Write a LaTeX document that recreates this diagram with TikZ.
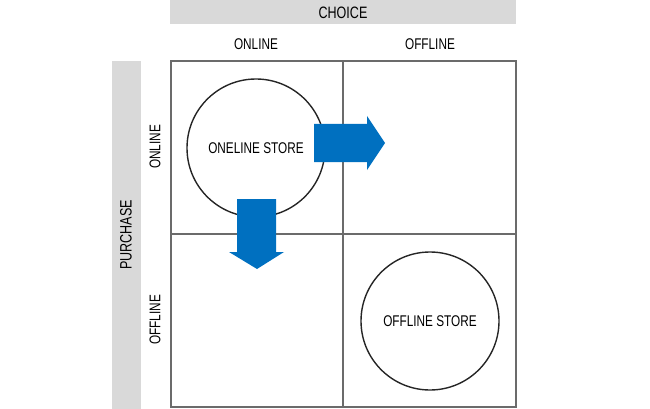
\documentclass[tikz,border=0pt]{standalone}
\usepackage{fontspec}
\setmainfont[FakeStretch=0.76]{Liberation Sans}
\definecolor{bargray}{HTML}{D9D9D9}
\definecolor{gridgray}{HTML}{6B6B6B}
\definecolor{arrowblue}{HTML}{0070C0}
\begin{document}
\begin{tikzpicture}[x=1pt,y=-1pt]
    \tikzset{
        gridline/.style={draw=gridgray,line width=1.8pt},
        storecircle/.style={draw=black!85,line width=1.4pt},
        blockarrow/.style={fill=arrowblue,draw=none},
        lbl/.style={inner sep=0pt,font=\fontsize{15.5}{18}\selectfont},
        headlbl/.style={inner sep=0pt,font=\fontsize{16.5}{19}\selectfont}
    }
    \useasboundingbox (0,0) rectangle (650,409);
    % header bars
    \fill [bargray] (170,0) rectangle (516,24);
    \node [headlbl] (choice) at (343,13) {CHOICE};
    \fill [bargray] (112,61) rectangle (141,409);
    \node [headlbl,rotate=90] (purchase) at (126,235) {PURCHASE};
    % axis labels
    \node [lbl] (colon) at (256,44) {ONLINE};
    \node [lbl] (coloff) at (430,44) {OFFLINE};
    \node [lbl,rotate=90] (rowon) at (155,147) {ONLINE};
    \node [lbl,rotate=90] (rowoff) at (155,320) {OFFLINE};
    % grid
    \draw [gridline] (171,61) rectangle (516,407);
    \draw [gridline] (343,61) -- (343,407);
    \draw [gridline] (171,234) -- (516,234);
    % stores
    \node [storecircle,circle,minimum size=138pt,lbl] (onstore) at (256,148) {ONELINE STORE};
    \node [storecircle,circle,minimum size=138pt,lbl] (offstore) at (430,321) {OFFLINE STORE};
    % arrows
    \fill [blockarrow] (314,124) -- (367,124) -- (367,116) -- (385,143)
        -- (367,170) -- (367,162) -- (314,162) -- cycle;
    \fill [blockarrow] (237,199) -- (276,199) -- (276,252) -- (284,252) -- (257,269)
        -- (229,252) -- (237,252) -- cycle;
\end{tikzpicture}
\end{document}
